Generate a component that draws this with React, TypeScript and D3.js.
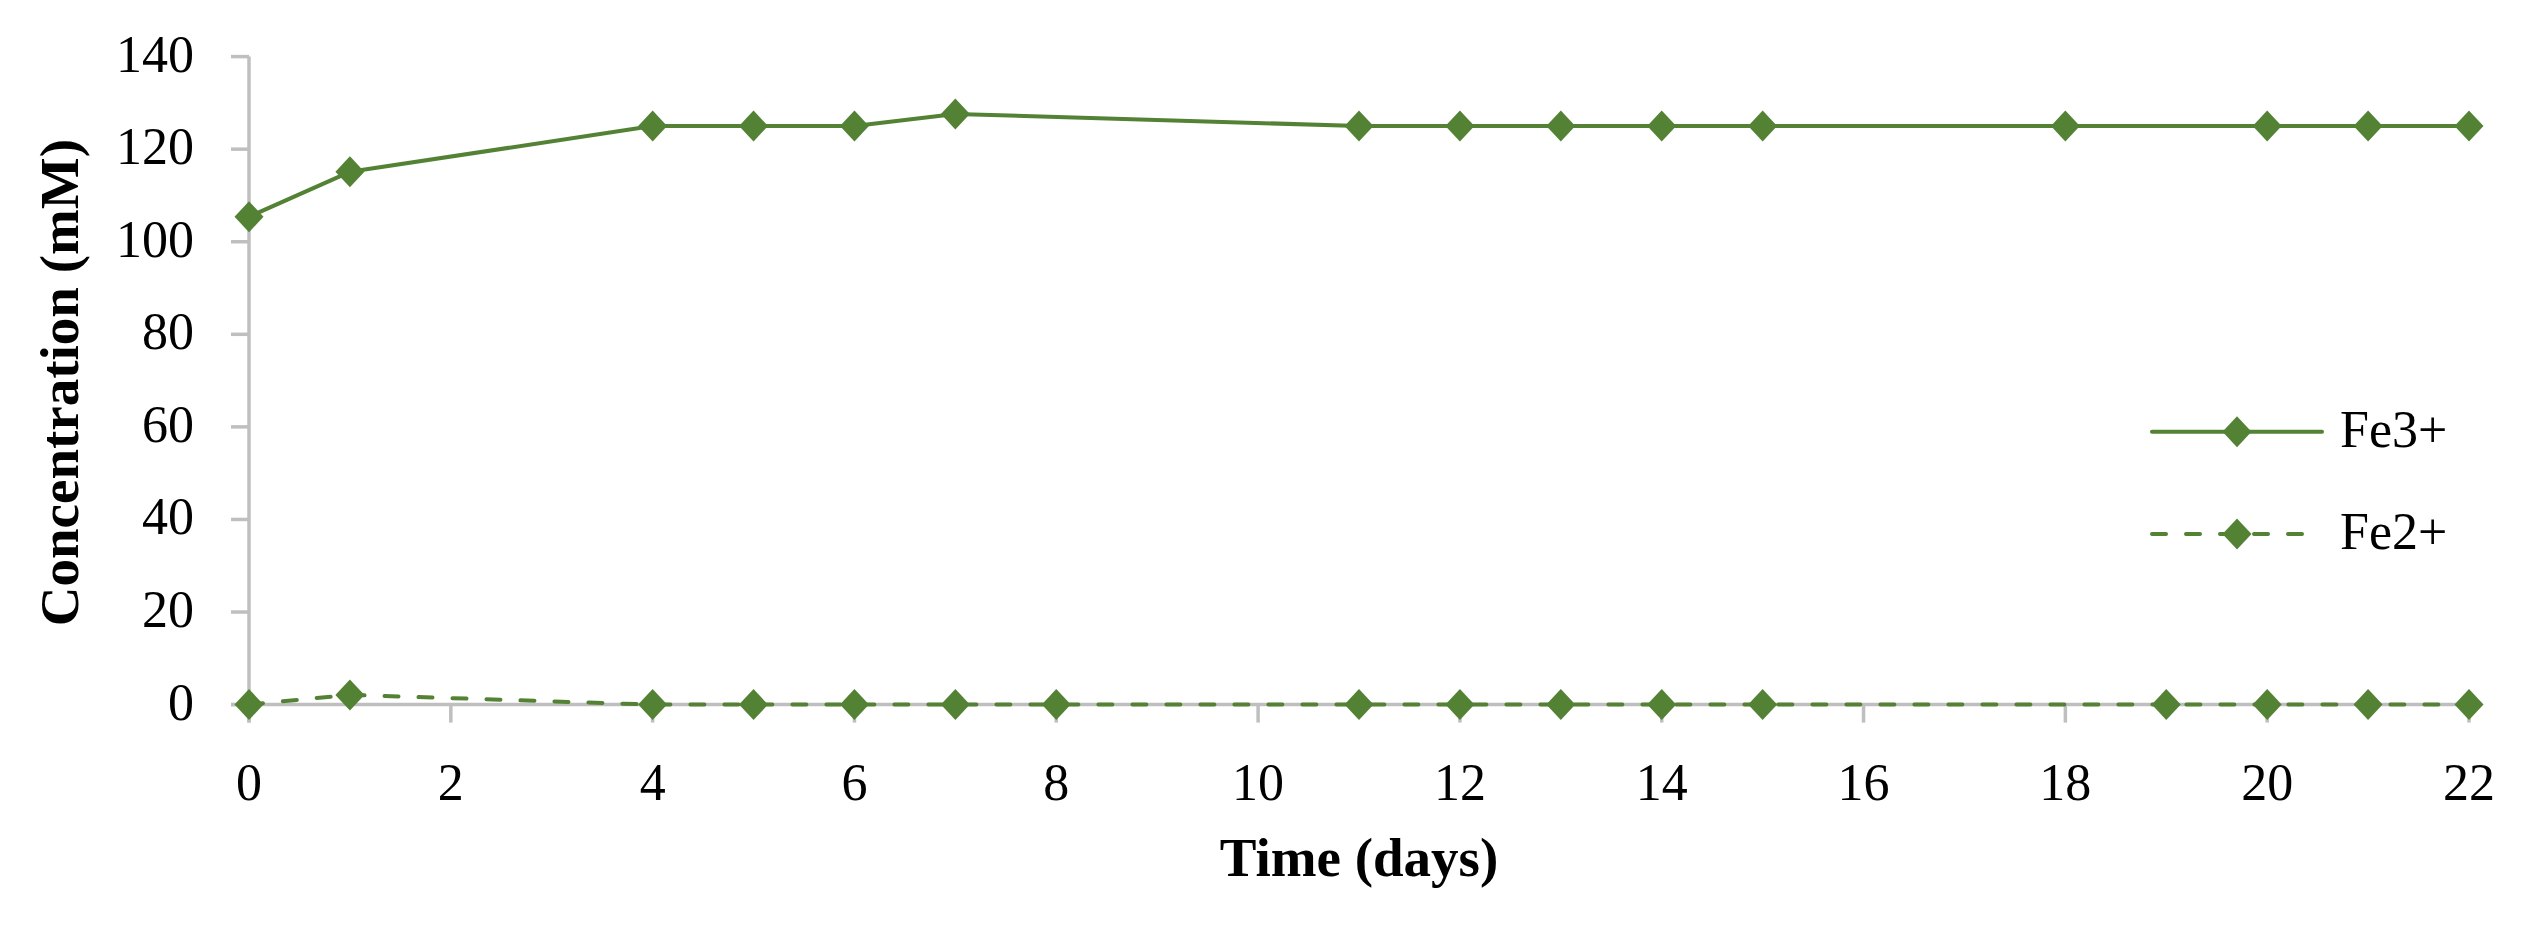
import React from "react";
import * as d3 from "d3";

const fe3Days = [0, 1, 4, 5, 6, 7, 11, 12, 13, 14, 15, 18, 20, 21, 22];
const fe3Values = [105.4, 115.1, 125, 125, 125, 127.6, 125, 125, 125, 125, 125, 125, 125, 125, 125];
const fe2Days = [0, 1, 4, 5, 6, 7, 8, 11, 12, 13, 14, 15, 19, 20, 21, 22];
const fe2Values = [0, 2.1, 0, 0, 0, 0, 0, 0, 0, 0, 0, 0, 0, 0, 0, 0];
const xTicks = [0, 2, 4, 6, 8, 10, 12, 14, 16, 18, 20, 22];
const yTicks = [0, 20, 40, 60, 80, 100, 120, 140];
const seriesNames = ["Fe3+", "Fe2+"];

const W = 2534;
const H = 925;
const GREEN = "#548235";
const AXIS = "#BFBFBF";
const FONT = "'Liberation Serif', 'Times New Roman', serif";

export default function App() {
  const x = d3.scaleLinear().domain([0, 22]).range([249, 2469]);
  const y = d3.scaleLinear().domain([0, 140]).range([704.6, 56.6]);
  const line = d3
    .line<[number, number]>()
    .x((d) => x(d[0]))
    .y((d) => y(d[1]));
  const fe3 = fe3Days.map((d, i) => [d, fe3Values[i]] as [number, number]);
  const fe2 = fe2Days.map((d, i) => [d, fe2Values[i]] as [number, number]);
  const diamond = (cx: number, cy: number) =>
    `M${cx},${cy - 15.5}L${cx + 14.5},${cy}L${cx},${cy + 15.5}L${cx - 14.5},${cy}Z`;
  const tickLen = 18;
  const x0 = x(0);
  const y0 = y(0);

  const legendY = [431.7, 534];
  const legendX1 = 2152;
  const legendX2 = 2322;
  const legendMid = 2237;

  return (
    <svg
      width={W}
      height={H}
      style={{ position: "absolute", left: 0, top: 0, background: "#fff" }}
      fontFamily={FONT}
    >
      <rect x={0} y={0} width={W} height={H} fill="#fff" />
      {/* Y axis */}
      <line x1={x0} x2={x0} y1={y(140)} y2={y0 + tickLen} stroke={AXIS} strokeWidth={3.5} />
      {yTicks.map((t) => (
        <g key={"y" + t}>
          <line x1={x0 - tickLen} x2={x0} y1={y(t)} y2={y(t)} stroke={AXIS} strokeWidth={3.5} />
          <text x={194} y={y(t) + 15} textAnchor="end" fontSize={52} fill="#000">
            {t}
          </text>
        </g>
      ))}
      {/* X axis */}
      <line x1={x0 - tickLen} x2={x(22) + 2} y1={y0} y2={y0} stroke={AXIS} strokeWidth={3.5} />
      {xTicks.map((t) => (
        <g key={"x" + t}>
          <line x1={x(t)} x2={x(t)} y1={y0} y2={y0 + tickLen} stroke={AXIS} strokeWidth={3.5} />
          <text x={x(t)} y={y0 + 95} textAnchor="middle" fontSize={52} fill="#000">
            {t}
          </text>
        </g>
      ))}
      {/* Axis titles */}
      <text x={(x(0) + x(22)) / 2} y={876} textAnchor="middle" fontSize={55} fontWeight="bold" fill="#000">
        Time (days)
      </text>
      <text
        transform={`translate(78, ${(y(0) + y(140)) / 2 + 2}) rotate(-90)`}
        textAnchor="middle"
        fontSize={55}
        fontWeight="bold"
        fill="#000"
      >
        Concentration (mM)
      </text>
      {/* Fe3+ */}
      <path d={line(fe3) || ""} fill="none" stroke={GREEN} strokeWidth={4} strokeLinejoin="round" />
      {fe3.map((d, i) => (
        <path key={"a" + i} d={diamond(x(d[0]), y(d[1]))} fill={GREEN} />
      ))}
      {/* Fe2+ */}
      <path
        d={line(fe2) || ""}
        fill="none"
        stroke={GREEN}
        strokeWidth={4}
        strokeDasharray="14 20"
        strokeLinecap="round"
      />
      {fe2.map((d, i) => (
        <path key={"b" + i} d={diamond(x(d[0]), y(d[1]))} fill={GREEN} />
      ))}
      {/* Legend */}
      <line x1={legendX1} x2={legendX2} y1={legendY[0]} y2={legendY[0]} stroke={GREEN} strokeWidth={4} strokeLinecap="round" />
      <path d={diamond(legendMid, legendY[0])} fill={GREEN} />
      <text x={2340} y={legendY[0] + 15} fontSize={52} fill="#000">
        {seriesNames[0]}
      </text>
      <line
        x1={legendX1}
        x2={legendX2}
        y1={legendY[1]}
        y2={legendY[1]}
        stroke={GREEN}
        strokeWidth={4}
        strokeDasharray="14 20"
        strokeLinecap="round"
      />
      <path d={diamond(legendMid, legendY[1])} fill={GREEN} />
      <text x={2340} y={legendY[1] + 15} fontSize={52} fill="#000">
        {seriesNames[1]}
      </text>
    </svg>
  );
}
